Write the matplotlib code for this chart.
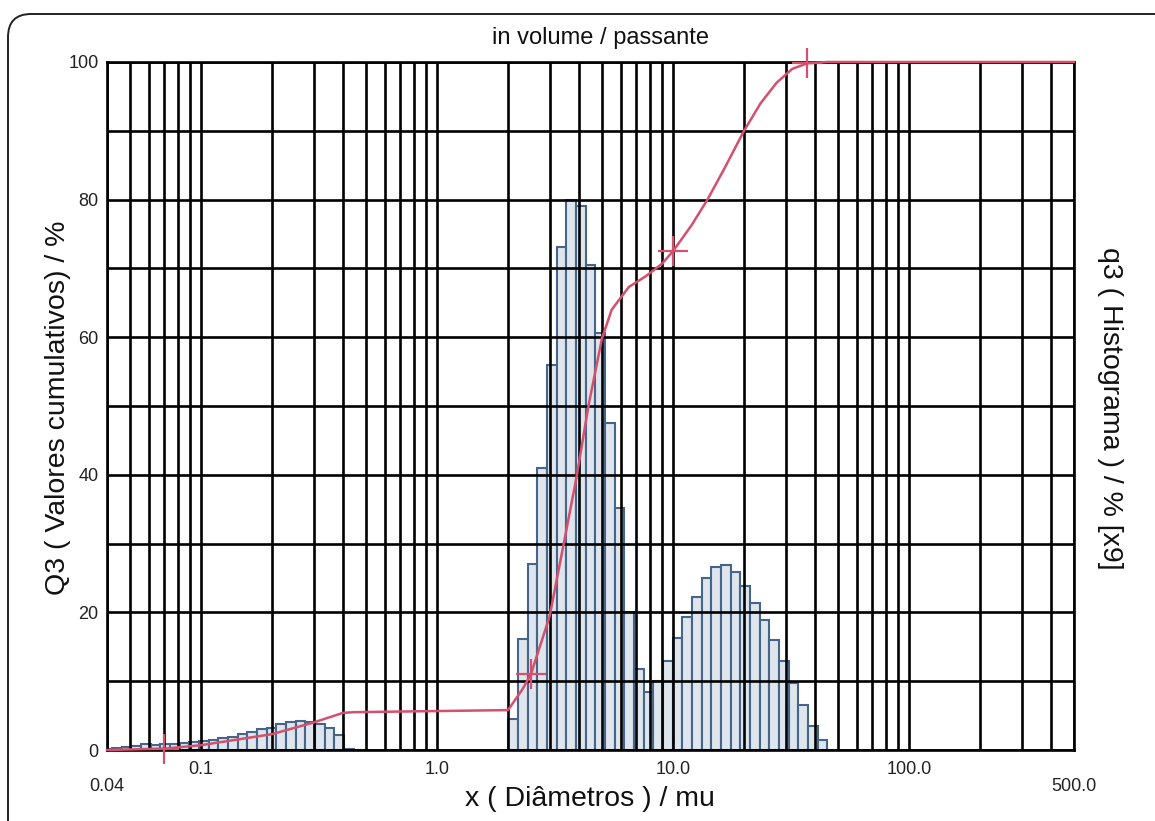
import matplotlib
matplotlib.use("Agg")
import matplotlib.pyplot as plt
import numpy as np
from matplotlib.patches import FancyBboxPatch
from matplotlib.transforms import blended_transform_factory

plt.rcParams['font.family'] = ['Liberation Sans', 'DejaVu Sans']

# size classes of the instrument: 101 class centres, 0.04 .. 500 mu
x_classes = np.geomspace(0.04, 500, 101)

# q3 histogram (x9)
q3_fine = [0.2, 0.25, 0.4, 0.6, 0.8, 0.75, 0.8, 0.9, 1.0, 1.1, 1.3, 1.5, 1.7,
           1.9, 2.3, 2.6, 3.1, 3.2, 3.8, 4.0, 4.2, 4.1, 3.8, 3.2, 2.2, 0.2]     # classes 0..25
q3_coarse = [4.5, 16.2, 27.1, 41.0, 56.0, 73.1, 80.0, 79.1, 70.5, 60.6, 47.6,
             35.2, 20.0, 11.8, 8.4, 10.0, 12.9, 16.3, 19.4, 22.3, 25.0, 26.6,
             26.9, 25.8, 23.8, 21.3, 18.9, 16.0, 13.0, 9.7, 6.6, 3.5, 1.5]     # classes 42..74
fine_start = 0
coarse_start = 42

# Q3 cumulative curve
Q3_x = [0.04, 0.07, 0.1, 0.2, 0.3, 0.4, 0.45, 2.0, 2.3, 2.5, 3.0, 3.4, 3.9, 4.4,
        5.0, 5.5, 6.5, 7.7, 9.0, 10.0, 12.0, 14.0, 16.5, 20.0, 23.5, 27.5, 32.0,
        37.0, 45.0, 500.0]
Q3_y = [0.0, 0.2, 0.7, 2.3, 4.0, 5.4, 5.5, 5.8, 8.8, 11.0, 19.4, 29.0, 39.6, 50.3,
        59.8, 64.0, 67.3, 68.9, 70.7, 72.5, 76.3, 80.0, 84.5, 90.0, 94.0, 97.0, 99.0,
        99.8, 100.0, 100.0]

# cross markers on the curve
mark_x = [0.07, 2.5, 10.0, 37.0]
mark_y = [0.2, 11.0, 72.5, 99.8]

xlab_pos = [0.04, 0.1, 1.0, 10.0, 100.0, 500.0]
xlab_txt = ['0.04', '0.1', '1.0', '10.0', '100.0', '500.0']
xlab_low = [True, False, False, False, False, True]

hist = np.zeros(len(x_classes))
hist[fine_start:fine_start + len(q3_fine)] = q3_fine
hist[coarse_start:coarse_start + len(q3_coarse)] = q3_coarse

ratio = x_classes[1] / x_classes[0]
left = x_classes / np.sqrt(ratio)
width = x_classes * np.sqrt(ratio) - left

W, H = 1155, 821
fig = plt.figure(figsize=(W / 100, H / 100), dpi=100)
ax = fig.add_axes([107 / W, 1 - 750 / H, (1074 - 107) / W, (750 - 62) / H])

ax.set_xscale('log')
mask = hist > 0
ax.bar(left[mask], hist[mask], width=width[mask], align='edge',
       facecolor='#dfe5ec', edgecolor='#46658a', linewidth=1.5, zorder=1)

# grid
grid_x = [k * d for d in [0.01, 0.1, 1, 10, 100] for k in range(1, 10)]
grid_x = [g for g in grid_x if 0.04 - 1e-9 <= g <= 500 + 1e-9]
for g in grid_x:
    ax.axvline(g, color='black', lw=1.9, zorder=2)
for v in range(0, 101, 10):
    ax.axhline(v, color='black', lw=1.9, zorder=2)

ax.plot(Q3_x, Q3_y, color='#d64f6c', lw=1.8, zorder=4, clip_on=False)
ax.plot(mark_x, mark_y, ls='none', marker='+', ms=22, mew=1.6,
        color='#d64f6c', zorder=5, clip_on=False)

ax.set_xlim(0.04, 500)
ax.set_ylim(0, 100)
ax.set_xticks([])
ax.set_xticks([], minor=True)
ax.set_yticks(range(0, 101, 20))
ax.tick_params(axis='y', length=0, pad=6, labelsize=13, labelcolor='#222222')
for s in ax.spines.values():
    s.set_linewidth(1.9)

tr = blended_transform_factory(ax.transData, ax.transAxes)
for p, t, low in zip(xlab_pos, xlab_txt, xlab_low):
    ax.text(p, -0.041 if low else -0.016, t, transform=tr, ha='center', va='top',
            fontsize=13, color='#222222')

fig.text(601 / W, 1 - 38 / H, 'in volume / passante', ha='center', va='center',
         fontsize=17, color='#111111')
fig.text(590 / W, 1 - 799 / H, 'x ( Diâmetros ) / mu', ha='center', va='center',
         fontsize=20.5, color='#111111')
fig.text(58 / W, 1 - 408 / H, 'Q3 ( Valores cumulativos) / %', ha='center', va='center',
         rotation=90, fontsize=20.5, color='#111111')
fig.text(1110 / W, 1 - 408 / H, 'q3 ( Histograma ) / % [x9]', ha='center', va='center',
         rotation=270, fontsize=20.5, color='#111111')

border = FancyBboxPatch((8 / W, -0.1), 1.2, 1.1 - 14 / H,
                        boxstyle='round,pad=0,rounding_size=0.02',
                        transform=fig.transFigure, facecolor='none',
                        edgecolor='#222222', lw=1.4, mutation_aspect=W / H)
fig.patches.append(border)

fig.savefig('out.png', dpi=100)
